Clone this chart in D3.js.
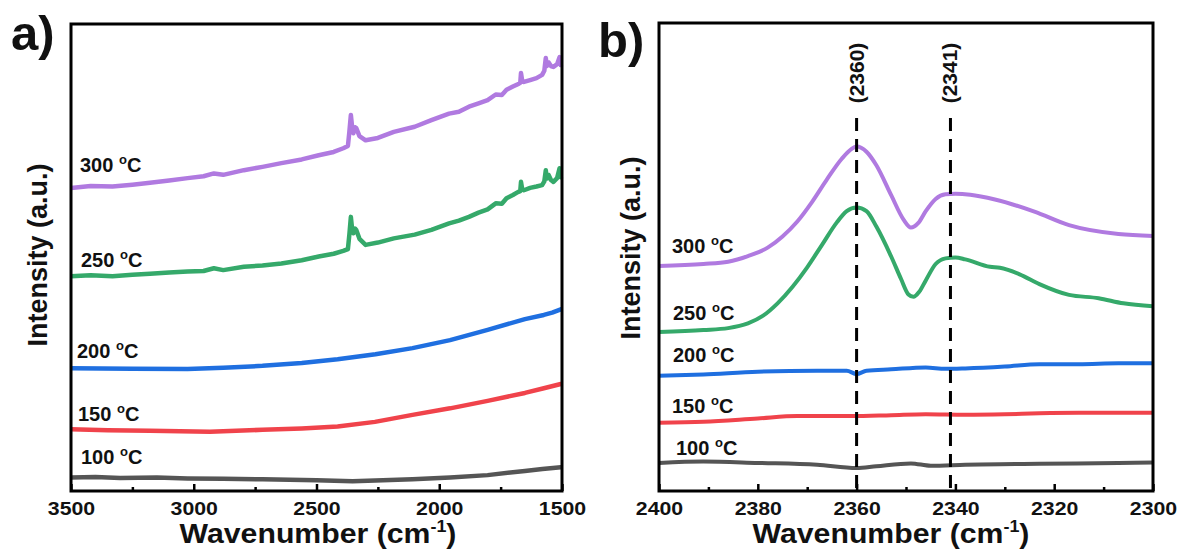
<!DOCTYPE html>
<html>
<head>
<meta charset="utf-8">
<script src="https://cdn.jsdelivr.net/npm/d3@7"></script>
<style>
  body { margin: 0; background: #fff; }
  svg text { font-family: "Liberation Sans", Arial, sans-serif; font-weight: bold; fill: #111; }
</style>
</head>
<body>
<svg id="chart" width="1180" height="554"></svg>
<script>
// ---- data: panel a (full range, wavenumber / intensity a.u.) ----
const aTicks = [3500, 3000, 2500, 2000, 1500];
const aMinor = [3250, 2750, 2250, 1750];

const a100 = [[3500,2.9],[3400,3.0],[3300,2.8],[3150,2.9],[3025,2.7],[2880,2.6],[2720,2.5],[2500,2.3],[2353,2.1],[2230,2.3],[2109,2.5],[1956,2.9],[1803,3.4],[1651,4.3],[1580,4.7],[1505,5.1],[1500,5.1]];
const a150 = [[3500,13.2],[3350,13.0],[3178,12.9],[2934,12.7],[2720,13.1],[2560,13.4],[2414,13.8],[2262,14.8],[2109,16.3],[1956,17.7],[1803,19.3],[1651,21.0],[1574,22.0],[1505,22.9],[1500,22.9]];
const a200 = [[3500,26.3],[3250,26.2],[3025,26.1],[2880,26.4],[2720,26.8],[2560,27.4],[2414,28.2],[2260,29.3],[2109,30.6],[1956,32.3],[1803,34.5],[1651,36.8],[1574,37.7],[1540,38.2],[1505,38.9],[1500,39.0]];
const a250 = [[3500,46.0],[3420,46.2],[3331,46.0],[3250,46.3],[3178,46.5],[3100,46.8],[3025,47.0],[2960,47.1],[2918,47.7],[2880,47.3],[2796,48.0],[2720,48.3],[2643,48.7],[2560,49.4],[2491,50.2],[2430,50.8],[2391,51.4],[2372,51.8],[2366,55],[2360,58.7],[2354,55.6],[2350,55.2],[2343,56.2],[2338,55.9],[2325,54.0],[2300,52.7],[2250,53.2],[2185,54.1],[2100,54.9],[2032,55.9],[1960,57.3],[1920,57.9],[1879,58.7],[1840,59.6],[1803,60.3],[1770,61.6],[1745,61.5],[1726,62.7],[1700,63.4],[1680,64.0],[1670,64.2],[1667,66.2],[1662,64.6],[1655,64.4],[1630,64.9],[1604,65.2],[1581,65.5],[1572,66.3],[1566,68.7],[1562,66.9],[1555,67.7],[1545,66.6],[1535,66.2],[1520,67.0],[1510,69.1],[1505,67.2],[1500,67.4]];
const a300 = [[3500,64.9],[3420,65.3],[3331,65.2],[3250,65.6],[3178,66.0],[3100,66.5],[3025,67.0],[2960,67.4],[2918,68.0],[2880,67.7],[2796,68.7],[2720,69.4],[2643,70.2],[2560,71.0],[2491,71.9],[2430,72.6],[2391,73.4],[2372,73.9],[2366,77.0],[2360,80.5],[2354,77.5],[2350,76.6],[2343,77.9],[2338,77.7],[2325,76.0],[2300,75.1],[2250,75.6],[2185,76.9],[2100,78.0],[2032,79.4],[1960,80.8],[1920,81.2],[1879,82.3],[1840,83.0],[1803,83.7],[1770,84.9],[1745,84.8],[1726,85.9],[1700,86.6],[1680,87.1],[1670,87.4],[1667,89.5],[1662,87.8],[1655,87.6],[1630,88.0],[1604,88.4],[1581,89.1],[1572,90.0],[1566,92.7],[1562,91.0],[1555,91.8],[1545,91.0],[1535,90.8],[1520,91.4],[1510,92.9],[1505,91.2],[1500,91.4]];

// ---- data: panel b (CO2 region) ----
const bTicks = [2400, 2380, 2360, 2340, 2320, 2300];
const bMinor = [2390, 2370, 2350, 2330, 2310];
const bMarks = [2360, 2341];

const b100 = [[2400,6.0],[2391,6.3],[2380,6.0],[2368,5.6],[2360,4.9],[2356,5.3],[2349,5.9],[2345,5.4],[2338,5.6],[2323,5.8],[2307,6.0],[2300,6.1]];
const b150 = [[2400,14.6],[2391,14.8],[2380,15.5],[2372,16.0],[2361,16.0],[2353,16.2],[2346,16.4],[2338,16.3],[2330,16.4],[2323,16.6],[2315,16.7],[2307,16.7],[2300,16.7]];
const b200 = [[2400,24.6],[2391,24.9],[2380,25.5],[2368,25.7],[2362,25.7],[2360,25.0],[2358,25.7],[2353,26.0],[2346,26.4],[2342,26.1],[2338,26.2],[2330,26.6],[2323,27.1],[2315,27.1],[2307,27.3],[2300,27.3]];
const b250 = [[2400,34.0],[2391,34.4],[2386,34.8],[2382,35.8],[2379,37.4],[2376,40.1],[2373,43.6],[2370,47.8],[2367,52.6],[2364,57.4],[2362,59.8],[2360,60.6],[2358,59.8],[2356,56.5],[2353,50.1],[2351,45.3],[2349.5,42.0],[2348.5,41.5],[2347.3,42.6],[2346,45.0],[2344,48.5],[2342,49.7],[2340,49.9],[2338,49.5],[2333,47.9],[2331,47.7],[2327,46.3],[2323,44.2],[2317,41.9],[2311,41.2],[2306,40.1],[2300,39.5]];
const b300 = [[2400,48.1],[2391,48.5],[2386,49.0],[2382,50.2],[2378,52.0],[2375,54.4],[2372,57.6],[2369,61.8],[2366,66.6],[2363,71.0],[2361,73.1],[2360,73.6],[2358,72.5],[2356,69.6],[2353,63.2],[2350.5,58.0],[2349,56.3],[2347.5,57.3],[2346,59.8],[2344,62.4],[2342,63.4],[2340,63.5],[2337,63.3],[2332,62.3],[2324,59.7],[2317,56.8],[2307,54.9],[2300,54.5]];

const colors = { c100: '#555555', c150: '#f0434b', c200: '#1f6fe0', c250: '#35a96a', c300: '#b07ae0' };
const STRETCH = 1.12; // the figure's lettering is a bit wider than plain Arial

const svg = d3.select('#chart');

function tempLabel(g, x, y, t) {
    const txt = g.append('text').attr('x', x).attr('y', y).style('font-size', '20px');
    txt.append('tspan').text(t + ' ');
    txt.append('tspan').text('o').style('font-size', '13px').attr('dy', -8);
    txt.append('tspan').text('C').attr('dy', 8);
}

function xTitle(x, y) {
    const t = svg.append('text').attr('transform', `translate(${x},${y}) scale(${STRETCH},1)`)
        .attr('text-anchor', 'middle').style('font-size', '27px');
    t.append('tspan').text('Wavenumber (cm');
    t.append('tspan').text('-1').style('font-size', '16px').attr('dy', -11);
    t.append('tspan').text(')').attr('dy', 11);
}

function drawPanel(p) {
    const x = d3.scaleLinear().domain(p.xDomain).range([p.left, p.right]);
    const y = d3.scaleLinear().domain([0, 100]).range([p.bottom, p.top]);
    const g = svg.append('g');

    // minor ticks (inside)
    g.append('g').attr('transform', `translate(0,${p.bottom})`)
        .call(d3.axisBottom(x).tickValues(p.minor).tickSize(-4).tickFormat(''))
        .call(s => s.select('.domain').remove())
        .call(s => s.selectAll('line').attr('stroke', '#000').attr('stroke-width', 2.5));

    // major ticks + labels
    g.append('g').attr('transform', `translate(0,${p.bottom})`)
        .call(d3.axisBottom(x).tickValues(p.ticks).tickSize(-7).tickPadding(11).tickFormat(d3.format('d')))
        .call(s => s.select('.domain').remove())
        .call(s => s.selectAll('line').attr('stroke', '#000').attr('stroke-width', 2.5))
        .call(s => s.selectAll('text').style('font-size', '19px').attr('fill', '#111')
            .attr('transform', `scale(${STRETCH},1)`)
            .style('font-family', '"Liberation Sans", Arial, sans-serif').style('font-weight', 'bold'));

    const line = d3.line().x(d => x(d[0])).y(d => y(d[1])).curve(p.curve);
    p.series.forEach(s => {
        g.append('path').datum(s.data)
            .attr('fill', 'none').attr('stroke', s.color)
            .attr('stroke-width', p.lineWidth).attr('stroke-linejoin', 'round').attr('stroke-linecap', 'butt')
            .attr('d', line);
        tempLabel(g, s.lx, s.ly, s.name);
    });

    if (p.marks) {
        p.marks.forEach(m => {
            g.append('line').attr('x1', x(m)).attr('x2', x(m)).attr('y1', 118).attr('y2', p.bottom)
                .attr('stroke', '#000').attr('stroke-width', 3).attr('stroke-dasharray', '13,8');
            g.append('text').attr('transform', `translate(${x(m) + 7},73) rotate(-90)`)
                .attr('text-anchor', 'middle').style('font-size', '21px').text(`(${m})`);
        });
    }

    // frame
    g.append('rect').attr('x', p.left).attr('y', p.top)
        .attr('width', p.right - p.left).attr('height', p.bottom - p.top)
        .attr('fill', 'none').attr('stroke', '#000').attr('stroke-width', 3);

    // y title
    g.append('text').attr('transform', `translate(${p.yTitleX},${p.yTitleY}) rotate(-90)`)
        .attr('text-anchor', 'middle').style('font-size', '27px').text('Intensity (a.u.)');

    // panel tag
    g.append('text').attr('x', p.tagX).attr('y', p.tagY).style('font-size', '49px').text(p.tag);

    xTitle(p.titleX, 543);
}

drawPanel({
    left: 71, right: 562, top: 24, bottom: 491,
    xDomain: [3500, 1500], ticks: aTicks, minor: aMinor, curve: d3.curveLinear, lineWidth: 4.5,
    yTitleX: 47, yTitleY: 255, tag: 'a)', tagX: 11, tagY: 50, titleX: 318,
    series: [
        { name: '100', data: a100, color: colors.c100, lx: 81, ly: 464 },
        { name: '150', data: a150, color: colors.c150, lx: 78, ly: 421 },
        { name: '200', data: a200, color: colors.c200, lx: 77, ly: 358 },
        { name: '250', data: a250, color: colors.c250, lx: 81, ly: 267 },
        { name: '300', data: a300, color: colors.c300, lx: 80, ly: 172 }
    ]
});

drawPanel({
    left: 659, right: 1153, top: 23, bottom: 491,
    xDomain: [2400, 2300], ticks: bTicks, minor: bMinor, curve: d3.curveMonotoneX, lineWidth: 4,
    marks: bMarks,
    yTitleX: 640, yTitleY: 248, tag: 'b)', tagX: 598, tagY: 57, titleX: 891,
    series: [
        { name: '100', data: b100, color: colors.c100, lx: 676, ly: 455 },
        { name: '150', data: b150, color: colors.c150, lx: 672, ly: 413 },
        { name: '200', data: b200, color: colors.c200, lx: 673, ly: 362 },
        { name: '250', data: b250, color: colors.c250, lx: 673, ly: 320 },
        { name: '300', data: b300, color: colors.c300, lx: 672, ly: 253 }
    ]
});
</script>
</body>
</html>
